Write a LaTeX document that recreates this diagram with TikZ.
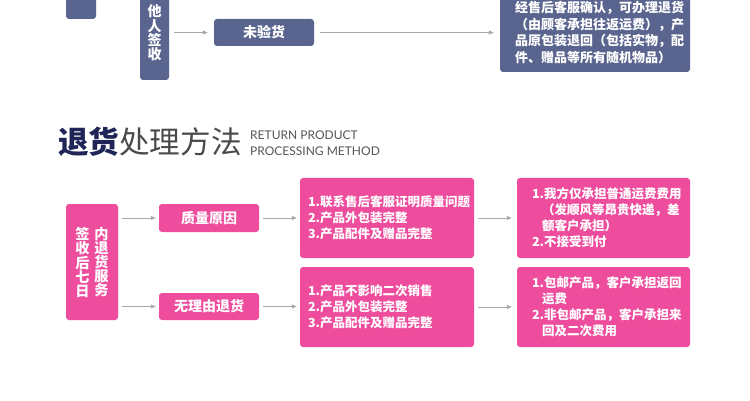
\documentclass[tikz,border=0pt]{standalone}
\usepackage{fontspec}
\setmainfont{Lato}
\newfontfamily\cjk{Noto Sans CJK SC}
\usetikzlibrary{arrows.meta}
\definecolor{navybox}{HTML}{5A658F}
\definecolor{pinkbox}{HTML}{EE4D9D}
\definecolor{arrowgray}{HTML}{A8A8A8}
\definecolor{titlenavy}{HTML}{1F2556}
\definecolor{titlegray}{HTML}{4A4A4A}
\definecolor{subgray}{HTML}{555555}
\tikzset{
  navy/.style={fill=navybox, rounded corners=3pt, inner sep=0pt, text=white, font=\cjk\bfseries\fontsize{14}{14.3}\selectfont},
  pink/.style={fill=pinkbox, rounded corners=3pt, inner sep=0pt, text=white, font=\cjk\bfseries\fontsize{14}{14.3}\selectfont},
  listtext/.style={font=\cjk\bfseries\fontsize{12.5}{16}\selectfont, align=left},
  vtext/.style={text=white, inner sep=0pt, align=center, font=\cjk\bfseries\fontsize{14.2}{14.2}\selectfont},
  flow/.style={draw=arrowgray, line width=0.8pt, -{Triangle[length=5pt,width=4pt]}, shorten <=4pt, shorten >=3pt}
}
\begin{document}
\begin{tikzpicture}[x=1pt,y=-1pt]
\useasboundingbox (0,0) rectangle (750,401);
\clip (0,0) rectangle (750,401);
\fill[white] (0,0) rectangle (750,401);
% ---- top (navy) part ----
\node[navy, minimum width=30pt, minimum height=60pt] (prev) at (81,-11) {};
\node[navy, minimum width=29pt, minimum height=94pt, align=center] (taren) at (154.5,33) {他\\人\\签\\收};
\node[navy, minimum width=100pt, minimum height=27pt] (weiyan) at (264,32.5) {未验货};
\node[navy, minimum height=79pt, text width=160pt, inner xsep=15pt, align=left,
      font=\cjk\bfseries\fontsize{13}{16.5}\selectfont] (confirm) at (595,32.5)
  {经售后客服确认，可办理退货\\（由顾客承担往返运费），产\\品原包装退回（包括实物，配\\件、赠品等所有随机物品）};
\draw[flow, shorten <=5pt, shorten >=6pt] (taren.east |- weiyan.west) -- (weiyan.west);
\draw[flow, shorten <=6pt, shorten >=6pt] (weiyan.east) -- (confirm.west |- weiyan.east);
% ---- title ----
\node[anchor=west, inner sep=0pt, font=\cjk\fontsize{30.6}{30.6}\selectfont] (title) at (58,141.5)
  {{\bfseries\color{titlenavy}退货}\color{titlegray}处理方法};
\node[anchor=west, inner sep=0pt, align=left, text=subgray, font=\fontsize{12}{16}\selectfont] (sub) at (250,143)
  {RETURN PRODUCT\\PROCESSING METHOD};
% ---- pink flow ----
\node[pink, minimum width=52pt, minimum height=116pt] (seven) at (92,262) {};
\node[vtext] (col1) at (82.5,262.5) {签\\收\\后\\七\\日};
\node[vtext] (col2) at (101.5,262) {内\\退\\货\\服\\务};
\node[pink, minimum width=100pt, minimum height=28pt] (quality) at (209,218) {质量原因};
\node[pink, minimum width=100pt, minimum height=27pt] (noreason) at (209,306.5) {无理由退货};
\node[pink, listtext, minimum height=80pt, text width=158pt, inner xsep=8pt] (qcond) at (387,218)
  {1.联系售后客服证明质量问题\\2.产品外包装完整\\3.产品配件及赠品完整};
\node[pink, listtext, minimum height=80pt, text width=158pt, inner xsep=8pt] (ncond) at (387,307)
  {1.产品不影响二次销售\\2.产品外包装完整\\3.产品配件及赠品完整};
\node[pink, listtext, minimum height=80pt, text width=143pt, inner xsep=15pt] (qres) at (603.5,218)
  {1.我方仅承担普通运费费用\\\hspace*{10pt}（发顺风等昂贵快递，差\\\hspace*{10pt}额客户承担）\\2.不接受到付};
\node[pink, listtext, minimum height=80pt, text width=143pt, inner xsep=15pt] (nres) at (603.5,307)
  {1.包邮产品，客户承担返回\\\hspace*{10pt}运费\\2.非包邮产品，客户承担来\\\hspace*{10pt}回及二次费用};
\draw[flow] (seven.east |- quality.west) -- (quality.west);
\draw[flow] (seven.east |- noreason.west) -- (noreason.west);
\draw[flow] (quality.east) -- (qcond.west |- quality.east);
\draw[flow] (noreason.east) -- (ncond.west |- noreason.east);
\draw[flow, shorten >=5pt] (qcond.east) -- (qres.west);
\draw[flow, shorten >=5pt] (ncond.east) -- (nres.west);
\end{tikzpicture}
\end{document}
